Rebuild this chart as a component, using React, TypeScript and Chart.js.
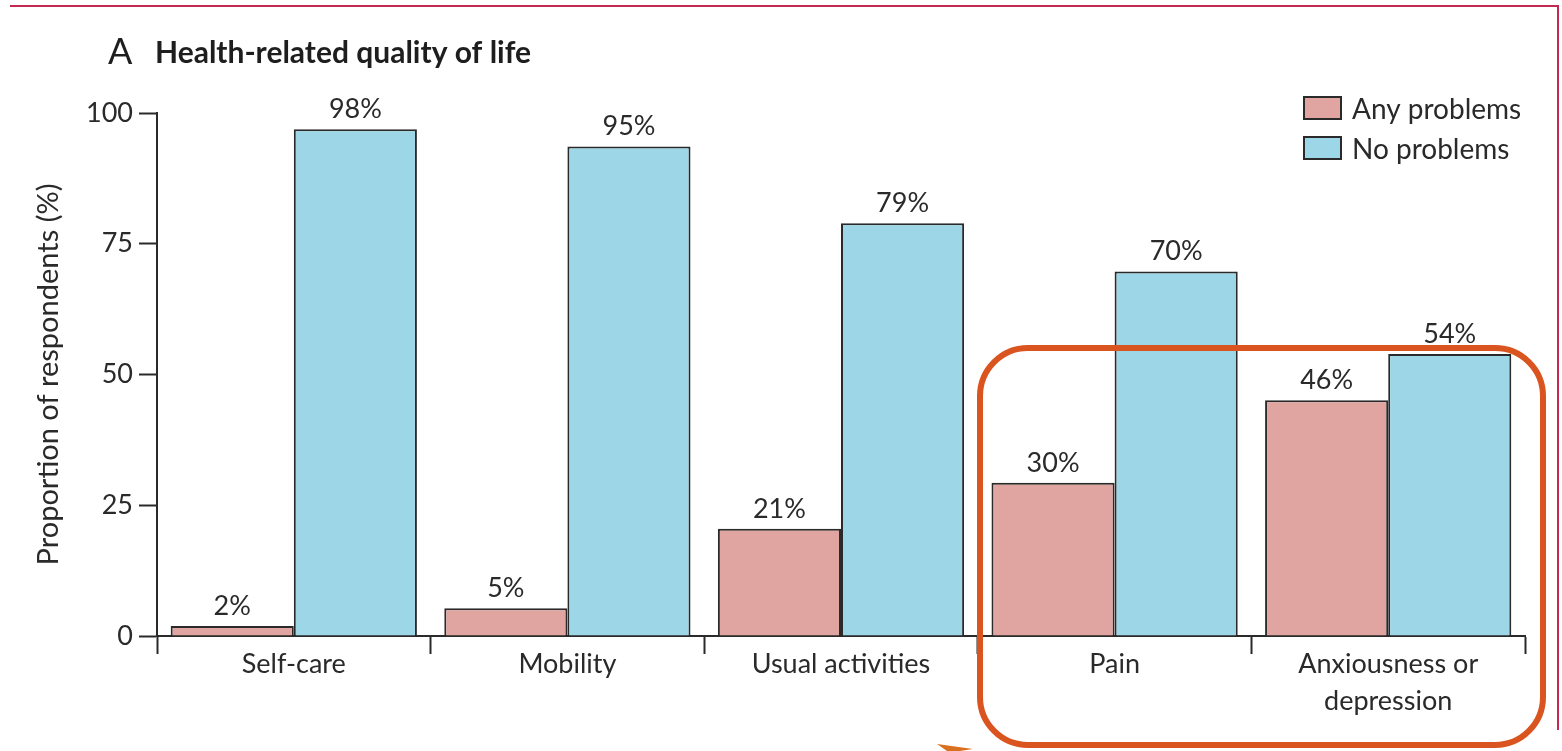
import React, { useEffect, useRef } from "react";
import { Chart, registerables } from "chart.js";

Chart.register(...registerables);

const categories: string[][] = [
  ["Self-care"],
  ["Mobility"],
  ["Usual activities"],
  ["Pain"],
  ["Anxiousness or", "depression"],
];
const seriesNames = ["Any problems", "No problems"];
const anyProblems = [1.9, 5.3, 20.5, 29.3, 45.1];
const noProblems = [96.9, 93.6, 78.9, 69.7, 53.9];
const anyLabels = ["2%", "5%", "21%", "30%", "46%"];
const noLabels = ["98%", "95%", "79%", "70%", "54%"];
const yTicks = [0, 25, 50, 75, 100];
const yTitle = "Proportion of respondents (%)";
const panelLetter = "A";
const panelTitle = "Health-related quality of life";

const FONT = "Lato, 'Open Sans', sans-serif";
const INK = "#2a2a2a";
const PINK = "#e0a5a1";
const BLUE = "#9dd6e7";

const valueLabelPlugin = {
  id: "valueLabels",
  afterDatasetsDraw(chart: any) {
    const ctx = chart.ctx;
    const lists = [anyLabels, noLabels];
    ctx.save();
    ctx.font = `27px ${FONT}`;
    ctx.fillStyle = INK;
    ctx.textAlign = "center";
    ctx.textBaseline = "alphabetic";
    chart.data.datasets.forEach((_: any, di: number) => {
      const meta = chart.getDatasetMeta(di);
      meta.data.forEach((bar: any, i: number) => {
        ctx.fillText(lists[di][i], bar.x, bar.y - 11);
      });
    });
    ctx.restore();
  },
};

const decorPlugin = {
  id: "decor",
  beforeDraw(chart: any) {
    const ctx = chart.ctx;
    ctx.save();
    ctx.fillStyle = "#ffffff";
    ctx.fillRect(0, 0, chart.width, chart.height);
    ctx.restore();
  },
  afterDraw(chart: any) {
    const ctx = chart.ctx;
    ctx.save();
    // page frame
    ctx.strokeStyle = "#c42a50";
    ctx.lineWidth = 2;
    ctx.beginPath();
    ctx.moveTo(10, 6);
    ctx.lineTo(1558, 6);
    ctx.lineTo(1558, 730);
    ctx.stroke();

    // panel title
    ctx.fillStyle = "#1e1e1e";
    ctx.textBaseline = "alphabetic";
    ctx.textAlign = "left";
    ctx.font = `36px ${FONT}`;
    ctx.fillText(panelLetter, 108, 64);
    ctx.font = `bold 30px ${FONT}`;
    ctx.fillText(panelTitle, 155, 63);

    // legend
    const colors = [PINK, BLUE];
    const tops = [97, 137];
    ctx.font = `28px ${FONT}`;
    seriesNames.forEach((name, i) => {
      ctx.fillStyle = colors[i];
      ctx.fillRect(1304, tops[i], 37, 22);
      ctx.strokeStyle = INK;
      ctx.lineWidth = 2;
      ctx.strokeRect(1304, tops[i], 37, 22);
      ctx.fillStyle = INK;
      ctx.fillText(name, 1352, tops[i] + 22);
    });

    // highlight annotation
    ctx.strokeStyle = "#d9541f";
    ctx.lineWidth = 6;
    ctx.beginPath();
    (ctx as any).roundRect(980, 348, 563, 397, 48);
    ctx.stroke();

    ctx.fillStyle = "#d9701f";
    ctx.beginPath();
    ctx.moveTo(937, 744);
    ctx.lineTo(973, 749);
    ctx.lineTo(960, 751);
    ctx.lineTo(947, 751);
    ctx.closePath();
    ctx.fill();
    ctx.restore();
  },
};

export default function App() {
  const ref = useRef<HTMLCanvasElement | null>(null);

  useEffect(() => {
    if (!ref.current) return;
    const chart = new Chart(ref.current, {
      type: "bar",
      data: {
        labels: categories,
        datasets: [
          {
            label: seriesNames[0],
            data: anyProblems,
            backgroundColor: PINK,
            borderColor: INK,
            borderWidth: 2,
            categoryPercentage: 0.9,
            barPercentage: 1.0,
          },
          {
            label: seriesNames[1],
            data: noProblems,
            backgroundColor: BLUE,
            borderColor: INK,
            borderWidth: 2,
            categoryPercentage: 0.9,
            barPercentage: 1.0,
          },
        ],
      },
      options: {
        responsive: false,
        animation: false,
        devicePixelRatio: 1,
        layout: { padding: { top: 113, right: 37, left: 0, bottom: 0 } },
        plugins: {
          legend: { display: false },
          title: { display: false },
          tooltip: { enabled: false },
        },
        scales: {
          x: {
            afterFit: (s: any) => {
              s.height = 115;
            },
            grid: {
              offset: true,
              drawOnChartArea: false,
              drawTicks: true,
              tickLength: 18,
              tickColor: INK,
              tickWidth: 2,
            },
            border: { color: INK, width: 2 },
            ticks: {
              color: INK,
              font: { family: FONT, size: 27, lineHeight: 1.4 },
              padding: -9,
              maxRotation: 0,
              autoSkip: false,
            },
          },
          y: {
            min: 0,
            max: 100,
            afterFit: (s: any) => {
              s.width = 157;
            },
            afterBuildTicks: (s: any) => {
              s.ticks = yTicks.map((v) => ({ value: v }));
            },
            grid: {
              drawOnChartArea: false,
              drawTicks: true,
              tickLength: 18,
              tickColor: INK,
              tickWidth: 2,
            },
            border: { color: INK, width: 2 },
            ticks: {
              color: INK,
              font: { family: FONT, size: 27 },
              padding: 6,
            },
            title: {
              display: true,
              text: yTitle,
              color: INK,
              font: { family: FONT, size: 29 },
              padding: { top: 31, bottom: 0 },
            },
          },
        },
      },
      plugins: [decorPlugin, valueLabelPlugin],
    });
    return () => chart.destroy();
  }, []);

  return (
    <div style={{ position: "fixed", left: 0, top: 0, width: 1562, height: 751, background: "#fff" }}>
      <canvas ref={ref} width={1562} height={751} style={{ display: "block" }} />
    </div>
  );
}
